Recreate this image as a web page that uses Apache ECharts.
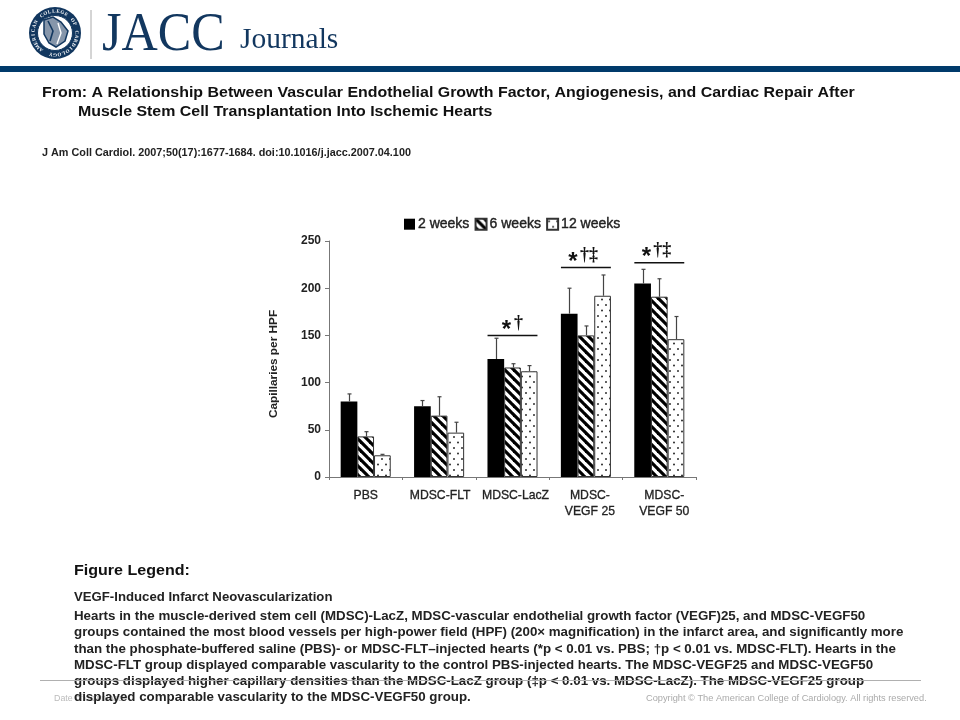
<!DOCTYPE html>
<html><head><meta charset="utf-8">
<style>html,body{margin:0;padding:0;background:#fff}#c{width:960px;height:720px}</style>
<script src="https://cdn.jsdelivr.net/npm/echarts@6/dist/echarts.min.js"></script>
</head><body><div id="c"></div>
<script>
const categories = ['PBS','MDSC-FLT','MDSC-LacZ','MDSC-\nVEGF 25','MDSC-\nVEGF 50'];
const labelShift = [0,1,3,4,5];
const seriesNames = ['2 weeks','6 weeks','12 weeks'];
const weeks2 = [80,75,125,173,205];
const weeks6 = [43,65,116,150,191];
const weeks12 = [23,47,112,192,146];
const top2 = [88,81,147,200,220];
const top6 = [48,85,120,160,210];
const top12 = [24,58,118,214,170];
const bracketCats = [2,3,4];
const bracketVals = [150,222,227];
const bracketMarks = ['†','†‡','†‡'];
const titleLines = ['From: A Relationship Between Vascular Endothelial Growth Factor, Angiogenesis, and Cardiac Repair After','Muscle Stem Cell Transplantation Into Ischemic Hearts'];
const citation = 'J Am Coll Cardiol. 2007;50(17):1677-1684. doi:10.1016/j.jacc.2007.04.100';
const legendHead = 'Figure Legend:';
const legendTitle = 'VEGF-Induced Infarct Neovascularization';
const legendBody = [
 'Hearts in the muscle-derived stem cell (MDSC)-LacZ, MDSC-vascular endothelial growth factor (VEGF)25, and MDSC-VEGF50',
 'groups contained the most blood vessels per high-power field (HPF) (200× magnification) in the infarct area, and significantly more',
 'than the phosphate-buffered saline (PBS)- or MDSC-FLT–injected hearts (*p < 0.01 vs. PBS; †p < 0.01 vs. MDSC-FLT). Hearts in the',
 'MDSC-FLT group displayed comparable vascularity to the control PBS-injected hearts. The MDSC-VEGF25 and MDSC-VEGF50',
 'groups displayed higher capillary densities than the MDSC-LacZ group (‡p < 0.01 vs. MDSC-LacZ). The MDSC-VEGF25 group',
 'displayed comparable vascularity to the MDSC-VEGF50 group.'];
const footerLeft = 'Date of download:';
const footerRight = 'Copyright © The American College of Cardiology. All rights reserved.';
const ringText = 'AMERICAN COLLEGE OF CARDIOLOGY';

function stripeTile(){
  const s=9,c=document.createElement('canvas');c.width=c.height=s;
  const x=c.getContext('2d');x.fillStyle='#fff';x.fillRect(0,0,s,s);
  x.strokeStyle='#000';x.lineWidth=3.2;
  for(let i=-s;i<=s;i+=s){x.beginPath();x.moveTo(i-2,-2);x.lineTo(i+s+2,s+2);x.stroke();}
  return c;
}
function dotTile(){
  const c=document.createElement('canvas');c.width=8;c.height=11;
  const x=c.getContext('2d');x.fillStyle='#fff';x.fillRect(0,0,8,11);
  x.fillStyle='#222';
  [[2,2.5],[6,8]].forEach(p=>{x.beginPath();x.arc(p[0],p[1],0.95,0,7);x.fill();});
  return c;
}
const navy='#12375f';
const stripe={image:stripeTile(),repeat:'repeat'};
const dots={image:dotTile(),repeat:'repeat'};
const fills=['#000',stripe,dots];
const vals=[weeks2,weeks6,weeks12];
const tops=[top2,top6,top12];
const barFrac=0.2273;

const errData=[];
tops.forEach((t,s)=>t.forEach((v,i)=>errData.push([i,v,vals[s][i],s])));
const brData=bracketCats.map((c,i)=>[c,bracketVals[i],bracketMarks[i]]);

const g=[];
function txt(x,y,text,font,fill,scale,z){g.push({type:'text',z:z||50,silent:true,x,y,scaleX:scale||1,style:{text,font,fill,textVerticalAlign:'middle'}});}
g.push({type:'rect',shape:{x:0,y:66,width:960,height:6},style:{fill:'#003a6b'},silent:true});
g.push({type:'line',shape:{x1:91,y1:10,x2:91,y2:59},style:{stroke:'#aaa',lineWidth:1},silent:true});
g.push({type:'circle',shape:{cx:55,cy:33,r:26},style:{fill:navy},silent:true});
g.push({type:'circle',shape:{cx:55,cy:33,r:17.5},style:{fill:'#fff',stroke:navy,lineWidth:1},silent:true});
[...ringText].forEach((ch,i)=>{
  const a=-Math.PI*0.78+i*(Math.PI*1.56/(ringText.length-1))*1.18;
  g.push({type:'text',silent:true,x:55+Math.sin(a)*21.7,y:33-Math.cos(a)*21.7,rotation:-a,
    style:{text:ch,font:'bold 5px "Liberation Serif"',fill:'#fff',textAlign:'center',textVerticalAlign:'middle'}});
});
g.push({type:'polygon',silent:true,shape:{points:[[44,20],[53,17],[61,22],[68,31],[65,41],[56,47],[49,43],[44,34]]},style:{fill:'#8696aa',stroke:navy,lineWidth:1.5}});
g.push({type:'polyline',silent:true,shape:{points:[[48,21],[53,31],[50,41]]},style:{stroke:navy,lineWidth:1.6,fill:null}});
g.push({type:'polyline',silent:true,shape:{points:[[58,23],[61,33],[57,44]]},style:{stroke:'#fff',lineWidth:1.4,fill:null}});
txt(102,36,'JACC','54px "Liberation Serif"',navy,0.93);
txt(240,40,'Journals','29.5px "Liberation Serif"',navy);
txt(42,93.5,titleLines[0],'bold 14.2px "Liberation Sans"','#111',1.123);
txt(78,112.5,titleLines[1],'bold 14.2px "Liberation Sans"','#111',1.123);
txt(42,153,citation,'bold 10.4px "Liberation Sans"','#222',1.042);
txt(74,571.5,legendHead,'bold 14.4px "Liberation Sans"','#111',1.115);
txt(74,598,legendTitle,'bold 12px "Liberation Sans"','#222',1.098);
txt(54,699,footerLeft,'8.6px "Liberation Sans"','#bbb',1.03,40);
txt(646,699,footerRight,'9px "Liberation Sans"','#aaa',1.026,40);
g.push({type:'line',silent:true,z:60,shape:{x1:40,y1:680.5,x2:921,y2:680.5},style:{stroke:'#b0b0b0',lineWidth:1}});
const ys=[617,633,649.5,665.5,682,698];
legendBody.forEach((l,i)=>txt(74,ys[i],l,'bold 12px "Liberation Sans"','#222',1.11));

const chartText={fontFamily:'"Liberation Sans"',color:'#222'};
const series=seriesNames.map((n,s)=>({
  name:n,type:'bar',data:vals[s],barWidth:(barFrac*100)+'%',barGap:0,z:2,
  itemStyle:{color:fills[s],borderColor:s===0?'#000':'#333',borderWidth:s===0?0:1}
}));
series.push({type:'custom',name:'err',z:3,silent:true,data:errData,encode:{x:0,y:1},
  renderItem(p,api){
    const c=api.value(0),hi=api.value(1),base=api.value(2),s=api.value(3);
    const w=api.size([1,0])[0];
    const off=(s-1)*w*barFrac;
    const a=api.coord([c,hi]),b=api.coord([c,base]);
    const x=Math.round(a[0]+off)+0.5;
    const st={stroke:'#444',lineWidth:1.2};
    return {type:'group',children:[
      {type:'line',shape:{x1:x,y1:a[1],x2:x,y2:b[1]},style:st},
      {type:'line',shape:{x1:x-2,y1:a[1],x2:x+2,y2:a[1]},style:st}
    ]};
  }});
series.push({type:'custom',name:'sig',z:4,silent:true,data:brData,encode:{x:0,y:1},
  renderItem(p,api){
    const c=api.value(0),v=api.value(1),m=brData[p.dataIndex][2];
    const w=api.size([1,0])[0];
    const a=api.coord([c,v]);
    const h=w*0.34;
    const single=m.length===1;
    const star=single?-6:-13, dag=single?6:3;
    return {type:'group',children:[
      {type:'line',shape:{x1:a[0]-h,y1:a[1],x2:a[0]+h,y2:a[1]},style:{stroke:'#111',lineWidth:1.5}},
      {type:'text',style:{x:a[0]+star,y:a[1]-5.5,text:'*',font:'bold 24px "Liberation Sans"',fill:'#111',textAlign:'center',textVerticalAlign:'middle'}},
      {type:'text',style:{x:a[0]+dag,y:a[1]-12.5,text:m,font:'bold 18px "Liberation Serif"',fill:'#111',textAlign:'center',textVerticalAlign:'middle'}}
    ]};
  }});

const chart=echarts.init(document.getElementById('c'),null,{renderer:'canvas',width:960,height:720});
chart.setOption({
  animation:false,backgroundColor:'#fff',
  legend:{data:seriesNames,left:404,top:212,padding:[5,5,5,0],icon:'rect',itemWidth:11,itemHeight:11,itemGap:5,
    textStyle:{fontFamily:'"Liberation Sans"',fontSize:14,color:'#222',textBorderColor:'#222',textBorderWidth:0.4,padding:[0,0,0,-2]}},
  grid:{left:329,right:264,top:241,bottom:243},
  xAxis:{type:'category',data:categories.map((c,i)=>({value:c,textStyle:{padding:[0,0,0,labelShift[i]*2]}})),
    axisLine:{lineStyle:{color:'#777'}},axisTick:{show:true,length:3,lineStyle:{color:'#777'}},
    axisLabel:Object.assign({},chartText,{fontSize:12.2,margin:11,lineHeight:16,fontWeight:500,interval:0,textBorderColor:'#222',textBorderWidth:0.3})},
  yAxis:{type:'value',min:0,max:250,interval:50,name:'Capillaries per HPF',nameLocation:'middle',nameGap:49,
    nameTextStyle:Object.assign({},chartText,{fontSize:11.8,fontWeight:'bold',padding:[0,10,0,0]}),
    splitLine:{show:false},axisLine:{show:true,lineStyle:{color:'#777'}},axisTick:{show:true,length:4,lineStyle:{color:'#777'}},
    axisLabel:Object.assign({},chartText,{fontSize:12,fontWeight:'bold',margin:8})},
  series,graphic:g
});
</script></body></html>
